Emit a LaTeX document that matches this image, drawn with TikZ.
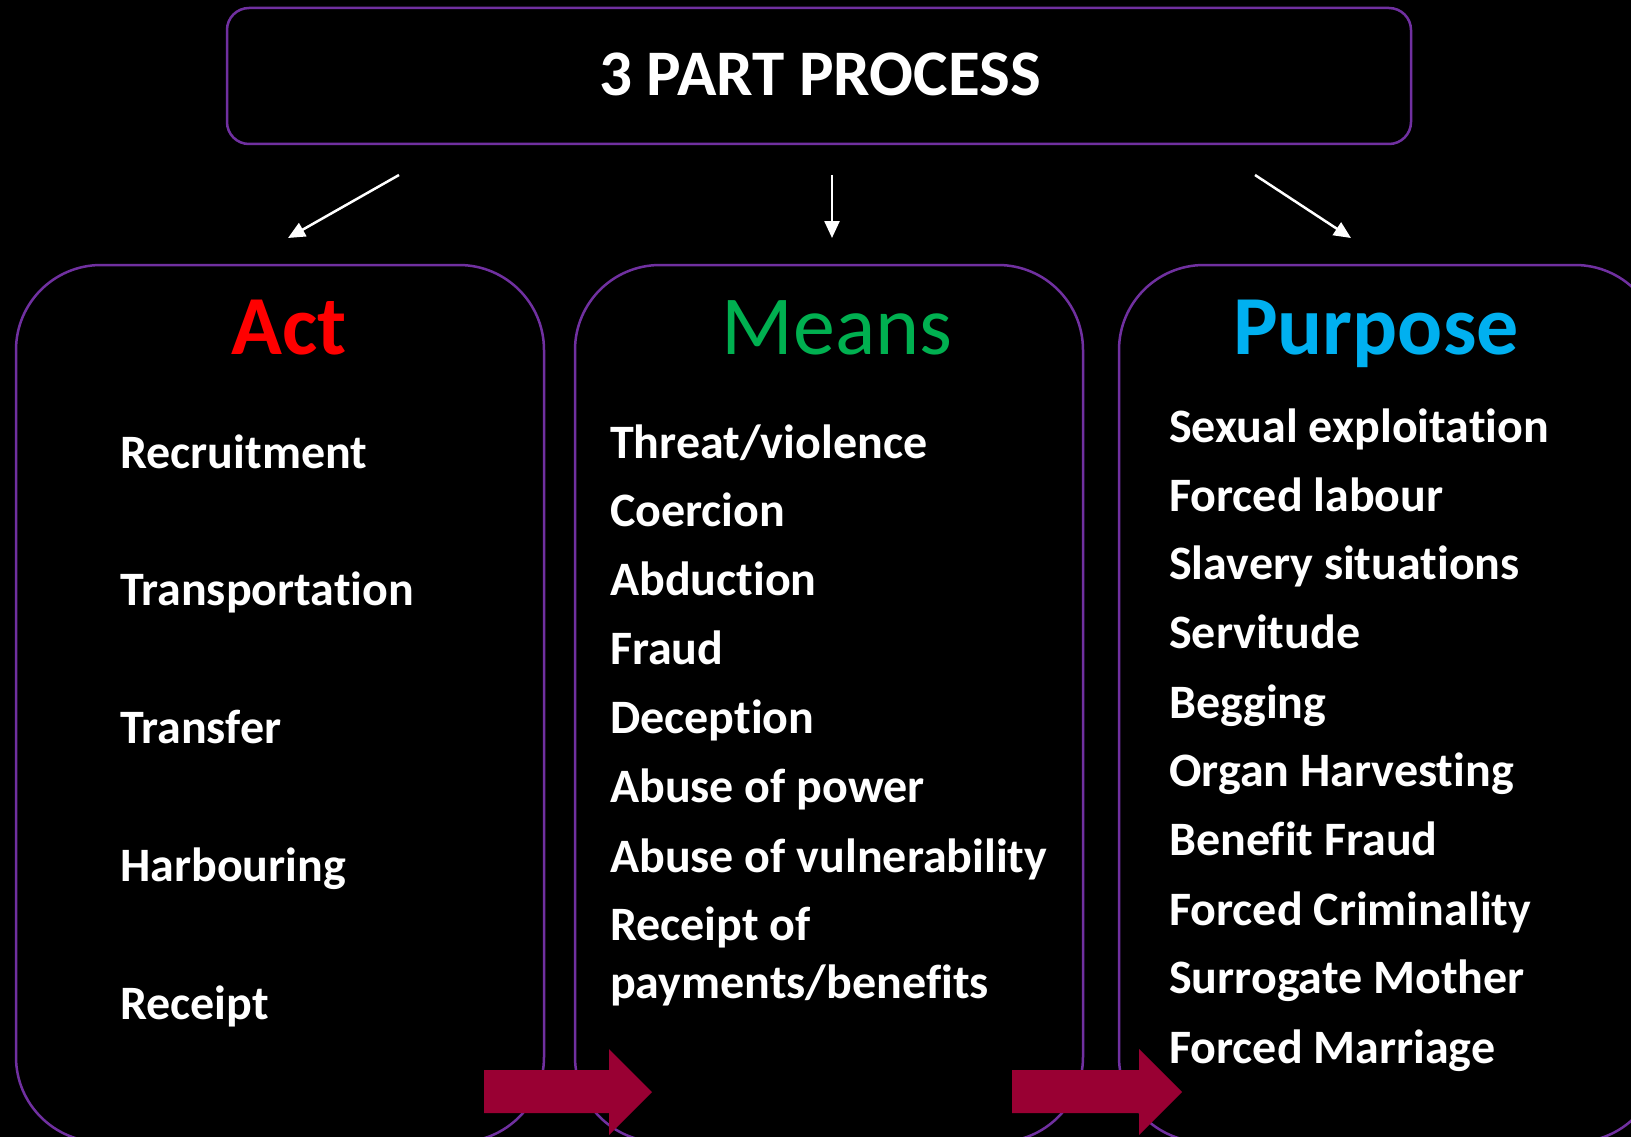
\documentclass[tikz,border=0pt]{standalone}
\usepackage{fontspec}
\setmainfont[Ligatures=NoCommon]{Carlito}
\usetikzlibrary{arrows.meta}
\definecolor{boxpurple}{HTML}{7030A0}
\definecolor{actred}{HTML}{FF0000}
\definecolor{meansgreen}{HTML}{00B050}
\definecolor{purposeblue}{HTML}{00B0F0}
\definecolor{crimson}{HTML}{990033}
\tikzset{
  panel/.style={draw=boxpurple, line width=2.5pt, rounded corners=85pt},
  item/.style={anchor=base west, text=white, inner sep=0pt, font=\fontsize{48}{57}\selectfont\bfseries},
  heading/.style={anchor=base, inner sep=0pt, font=\fontsize{84}{100}\selectfont},
  thinarrow/.style={draw=white, line width=2.5pt, -{Triangle[length=17pt,width=15pt]}},
  blockarrow/.style={fill=crimson, draw=none}
}
\begin{document}
\begin{tikzpicture}[x=1pt,y=-1pt]
\fill[black] (0,0) rectangle (1631,1137);
\useasboundingbox (0,0) rectangle (1631,1137);
\clip (0,0) rectangle (1631,1137);

% title
\draw[draw=boxpurple, line width=2.5pt, rounded corners=22pt] (227,8) rectangle (1411,144);
\node[anchor=base, text=white, inner sep=0pt, font=\fontsize{65}{78}\selectfont\bfseries] (title) at (820,96) {3 PART PROCESS};

% connectors
\coordinate (a1s) at (399,175); \coordinate (a1e) at (288,238);
\coordinate (a2s) at (832,175); \coordinate (a2e) at (832,238);
\coordinate (a3s) at (1255,175); \coordinate (a3e) at (1351,238);
\draw[thinarrow] (a1s) -- (a1e);
\draw[thinarrow] (a2s) -- (a2e);
\draw[thinarrow] (a3s) -- (a3e);

% panels
\draw[panel] (16,265) rectangle (544,1142);
\draw[panel] (575,265) rectangle (1083,1142);
\draw[panel] (1119,265) rectangle (1660,1142);

% headings
\node[heading, text=actred, font=\fontsize{84}{100}\selectfont\bfseries] (act) at (289,354) {Act};
\node[heading, text=meansgreen] (means) at (837,354) {Means};
\node[heading, text=purposeblue, font=\fontsize{84}{100}\selectfont\bfseries] (purpose) at (1376,354) {Purpose};

% act items
\node[item] (act1) at (120,468) {Recruitment};
\node[item] (act2) at (120,605) {Transportation};
\node[item] (act3) at (120,743) {Transfer};
\node[item] (act4) at (120,881) {Harbouring};
\node[item] (act5) at (120,1019) {Receipt};

% means items
\node[item] (m1) at (610,458) {Threat/violence};
\node[item] (m2) at (610,526) {Coercion};
\node[item] (m3) at (610,595) {Abduction};
\node[item] (m4) at (610,664) {Fraud};
\node[item] (m5) at (610,733) {Deception};
\node[item] (m6) at (610,802) {Abuse of power};
\node[item] (m7) at (610,872) {Abuse of vulnerability};
\node[item] (m8) at (610,940) {Receipt of};
\node[item] (m9) at (610,998) {payments/benefits};

% purpose items
\node[item] (p1) at (1169,442) {Sexual exploitation};
\node[item] (p2) at (1169,511) {Forced labour};
\node[item] (p3) at (1169,579) {Slavery situations};
\node[item] (p4) at (1169,648) {Servitude};
\node[item] (p5) at (1169,718) {Begging};
\node[item] (p6) at (1169,786) {Organ Harvesting};
\node[item] (p7) at (1169,855) {Benefit Fraud};
\node[item] (p8) at (1169,925) {Forced Criminality};
\node[item] (p9) at (1169,993) {Surrogate Mother};
\node[item] (p10) at (1169,1063) {Forced Marriage};

% block arrows
\fill[blockarrow] (484,1070) -- (609,1070) -- (609,1049) -- (652,1092) -- (609,1135) -- (609,1113) -- (484,1113) -- cycle;
\fill[blockarrow] (1012,1070) -- (1139,1070) -- (1139,1049) -- (1182,1092) -- (1139,1135) -- (1139,1113) -- (1012,1113) -- cycle;
\end{tikzpicture}
\end{document}
